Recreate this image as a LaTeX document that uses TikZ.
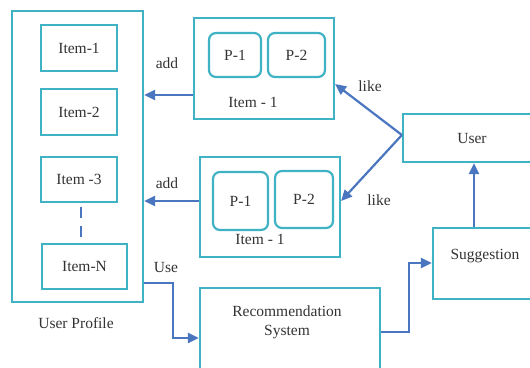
\documentclass[tikz,border=0pt]{standalone}
\usepackage{fontspec}
\setmainfont{Liberation Serif}
\usetikzlibrary{arrows.meta}
\definecolor{boxc}{HTML}{3FB3C4}
\definecolor{arrc}{HTML}{4A76C0}
\definecolor{txtc}{HTML}{333333}
\begin{document}
\begin{tikzpicture}[x=1pt,y=-1pt,
  box/.style={draw=boxc,line width=2.2pt,minimum width=#1,inner sep=0pt,text=txtc,font=\fontsize{15.5}{18}\selectfont},
  pbox/.style={draw=boxc,line width=2.2pt,rounded corners=7pt,inner sep=0pt,text=txtc,font=\fontsize{15.5}{18}\selectfont},
  lbl/.style={text=txtc,font=\fontsize{15.5}{18}\selectfont,inner sep=0pt},
  arr/.style={draw=arrc,line width=2.2pt,-{Triangle[length=11pt,width=10pt]}}]
\useasboundingbox (0,0) rectangle (530,367);
\fill[white] (0,0) rectangle (530,367);
% user profile
\node[box=131pt,minimum height=291pt] (UP) at (77.5,156.5) {};
\node[box=76pt,minimum height=46pt] (I1) at (79,48) {Item-1};
\node[box=76pt,minimum height=46pt] (I2) at (79,112) {Item-2};
\node[box=76pt,minimum height=45pt] (I3) at (79,179.5) {Item -3};
\node[box=85pt,minimum height=45pt] (IN) at (84.5,266.5) {Item-N};
\draw[arrc,line width=2.2pt,dash pattern=on 11pt off 8pt] (81,207) -- (81,238);
\node[lbl] (upl) at (76,323) {User Profile};
% top item box
\node[box=140pt,minimum height=101pt] (T) at (264,68.5) {};
\node[pbox,minimum width=52pt,minimum height=44pt] (TP1) at (235,55) {P-1};
\node[pbox,minimum width=57pt,minimum height=44pt] (TP2) at (296.5,55) {P-2};
\node[lbl] (tl) at (253,102) {Item - 1};
% bottom item box
\node[box=140pt,minimum height=100pt] (B) at (270,207) {};
\node[pbox,minimum width=55pt,minimum height=58pt] (BP1) at (240.5,201) {P-1};
\node[pbox,minimum width=58pt,minimum height=57pt] (BP2) at (304,199.5) {P-2};
\node[lbl] (bl) at (260,239) {Item - 1};
% user, suggestion, recommendation
\node[box=138pt,minimum height=48pt] (U) at (472,138) {User};
\node[box=104pt,minimum height=71pt] (S) at (485,263.5) {};
\node[lbl] (sl) at (485,256) {Suggestion};
\node[box=180pt,minimum height=86pt] (R) at (290,331) {};
\node[lbl,align=center] (rl) at (287,322) {Recommendation\\[1pt]System};
% labels
\node[lbl] (a1) at (167,63) {add};
\node[lbl] (a2) at (167,183) {add};
\node[lbl] (l1) at (370,86) {like};
\node[lbl] (l2) at (379,200) {like};
\node[lbl] (us) at (166,267) {Use};
% arrows
\draw[arr] (T.west |- 0,95) -- (UP.east |- 0,95);
\draw[arr] ([yshift=6pt]B.west) -- ([yshift=6pt]B.west -| UP.east);
\coordinate (uw) at ([yshift=3pt]U.west);
\draw[arr] (uw) -- (T.east |- 0,84);
\draw[arr] (uw) -- ([yshift=6pt]B.east);
\draw[arr] (UP.east |- 0,283) -- (173,283) |- (R.west |- 0,338);
\draw[arr] (R.east |- 0,332) -- (409,332) |- (S.west |- 0,263);
\draw[arr] (S.north -| 474,0) -- (U.south -| 474,0);
\end{tikzpicture}
\end{document}
